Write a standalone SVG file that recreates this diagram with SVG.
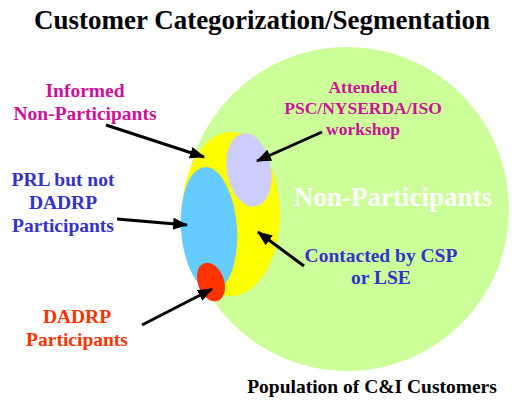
<svg xmlns="http://www.w3.org/2000/svg" width="516" height="400" viewBox="0 0 516 400">
<defs>
<style>
text{font-family:"Liberation Serif","Times New Roman",serif;font-weight:bold;text-anchor:middle}
.mag{fill:#CC1199;font-size:19.5px}
.mag2{fill:#CC1199;font-size:17.5px}
.blu{fill:#3333CC;font-size:19.5px}
.red{fill:#FF3300;font-size:19.5px}
.arr{stroke:#000;stroke-width:3;fill:none;marker-end:url(#ah)}
</style>
<marker id="ah" markerUnits="userSpaceOnUse" markerWidth="16" markerHeight="14" refX="14" refY="7" orient="auto">
<path d="M0,1 L15,7 L0,13 Z" fill="#000"/>
</marker>
</defs>
<rect width="516" height="400" fill="#fff"/>
<text x="262" y="29" style="font-size:27px" fill="#000">Customer Categorization/Segmentation</text>
<g id="population">
<circle cx="347" cy="209" r="162" fill="#CCFF99"/>
<text x="393" y="206" style="font-size:27px" fill="#fff">Non-Participants</text>
</g>
<g id="contacted">
<ellipse cx="231" cy="214" rx="49" ry="82" fill="#FFFF00"/>
</g>
<g id="attended">
<ellipse cx="249" cy="170" rx="22" ry="37" transform="rotate(-10 249 170)" fill="#CCCCFF"/>
</g>
<g id="prl">
<ellipse cx="209" cy="229" rx="28" ry="62" transform="rotate(-4 209 229)" fill="#66CCFF"/>
</g>
<g id="dadrp">
<ellipse cx="211" cy="282" rx="13" ry="20" transform="rotate(-20 211 282)" fill="#FF3300"/>
</g>
<g id="labels">
<text class="mag" x="85" y="97">Informed</text>
<text class="mag" x="85" y="120">Non-Participants</text>
<text class="blu" x="63" y="186">PRL but not</text>
<text class="blu" x="63" y="209">DADRP</text>
<text class="blu" x="63" y="232">Participants</text>
<text class="mag2" x="363" y="93">Attended</text>
<text class="mag2" x="363" y="114">PSC/NYSERDA/ISO</text>
<text class="mag2" x="363" y="135">workshop</text>
<text class="blu" x="381" y="262">Contacted by CSP</text>
<text class="blu" x="381" y="284">or LSE</text>
<text class="red" x="77" y="323">DADRP</text>
<text class="red" x="77" y="346">Participants</text>
<text x="372" y="393" style="font-size:19.5px" fill="#000">Population of C&amp;I Customers</text>
</g>
<g id="connectors">
<line class="arr" x1="106" y1="125" x2="204" y2="157"/>
<line class="arr" x1="117" y1="219" x2="187" y2="225"/>
<line class="arr" x1="322" y1="132" x2="257" y2="161"/>
<line class="arr" x1="304" y1="266" x2="258" y2="232"/>
<line class="arr" x1="142" y1="325" x2="212" y2="289"/>
</g>
</svg>
